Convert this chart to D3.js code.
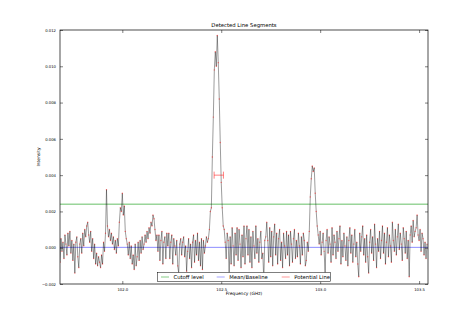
<!DOCTYPE html>
<html>
<head>
<meta charset="utf-8">
<script src="https://cdn.jsdelivr.net/npm/d3@7"></script>
<style>
  body { margin: 0; background: #fff; }
  text { font-family: "DejaVu Sans", sans-serif; fill: #000; }
</style>
</head>
<body>
<div id="chart"></div>
<script>
// spectral axis (channel start and width, GHz)
const freqStart = 101.685;
const freqStep = 0.005;
// intensity per channel, in units of 1e-4
const intensityE4 = [
  -8, 5, -2, 3, -6, 7, 2, -4, 8, 1,
  9, -3, 4, -7, 2, -14, 3, 6, -5, -11,
  2, 5, -3, 8, 1, 10, 6, 12, 14, 7,
  3, 9, -2, 5, -6, 2, -9, -3, -10, -5,
  -8, -11, -4, -9, 3, -2, 8, 32, 12, 6,
  10, 4, 8, 2, 6, -1, 4, -3, 5, 1,
  14, 22, 20, 30, 18, 23, 9, 5, 2, -4,
  3, -6, 1, -9, -4, -12, 2, -10, -5, 3,
  -7, 4, -3, 6, -1, 2, 7, 3, 9, 5,
  11, 8, 14, 12, 18, 16, 10, 4, 7, -2,
  7, -7, 4, 9, -9, 3, 6, -6, 8, 1,
  8, -6, 3, 7, -9, 5, 1, -4, 4, -10,
  -14, 2, 5, -4, 3, 6, -5, 1, -13, -2,
  5, -6, 2, -11, 3, 7, -8, 4, -4, 8,
  -7, 3, -10, 5, -12, 4, -3, 1, 6, 3,
  5, 10, 20, 22, 50, 72, 98, 108, 100, 117,
  102, 82, 58, 36, 22, 12, 10, 3, -6, 8,
  4, -16, 6, -9, 11, 1, -10, 8, -4, 11,
  -7, 10, 2, -11, 7, -5, 12, -9, 5, 12,
  -4, 10, -8, 6, -11, 9, 1, -6, 12, -3,
  5, -8, 3, 9, -6, -3, -18, 4, 6, 14,
  4, -8, 11, -5, 9, -10, 6, 13, -4, 8,
  -9, 5, 10, -7, 3, -11, 8, 1, -6, 9,
  -4, 7, -10, 9, 2, -8, 5, 10, -6, 4,
  -5, 8, 1, -9, 6, -4, 8, 4, -10, -7,
  3, -2, 9, 28, 38, 45, 42, 44, 30, 20,
  12, 7, 2, 9, -4, 3, 8, -2, -14, 4,
  10, -3, 6, 2, -8, 11, -4, 7, 3, -6,
  9, -2, 5, 12, -9, 4, -5, 8, 1, -7,
  6, -10, 4, 11, -3, 7, -8, 2, 10, -5,
  3, -9, -16, 8, -2, 6, 12, -4, 5, -8,
  7, -5, -14, 3, 10, -3, 6, -7, 13, 2,
  -11, 5, -2, 9, -6, 4, 12, -3, 8, -9,
  3, 11, -5, 7, 1, -8, 14, 4, -2, 10,
  -4, 6, 13, -1, 8, 2, -7, 11, 5, -3,
  9, -6, 4, -16, 7, 12, 3, 15, 6, 9,
  11, 18, 7, 4, 10, -2, 8, 5, -4, 3,
  -6, 2
];
const cutoffLevel = 0.0024;
const baseline = 0.00002;
// detected line segment: [start, end] frequency and its level
const lineSegments = [{ start: 102.464, end: 102.511, level: 0.004 }];
const xTicks = [102.0, 102.5, 103.0, 103.5];
const yTicks = [-0.002, 0.000, 0.002, 0.004, 0.006, 0.008, 0.010, 0.012];
const legendLabels = ["Cutoff level", "Mean/Baseline", "Potential Line"];
const legendColors = ["rgba(0,150,0,0.6)", "rgba(0,0,255,0.45)", "rgba(255,0,0,0.5)"];

const spectrum = intensityE4.map((v, i) => ({ f: freqStart + i * freqStep, y: v * 1e-4 }));

const W = 475, H = 316;
const margin = { top: 30, right: 47, bottom: 32, left: 60 },
   width = W - margin.left - margin.right,
   height = H - margin.top - margin.bottom;

const x = d3.scaleLinear().domain([101.685, 103.545]).range([0, width]);
const y = d3.scaleLinear().domain([-0.002, 0.012]).range([height, 0]);

const svg = d3.select("#chart").append("svg")
   .attr("width", W)
   .attr("height", H);
const g = svg.append("g")
   .attr("transform", "translate(" + margin.left + "," + margin.top + ")");

g.append("defs").append("clipPath").attr("id", "clip")
   .append("rect").attr("width", width).attr("height", height);
const plot = g.append("g").attr("clip-path", "url(#clip)");

// reference levels
plot.append("line")
   .attr("x1", 0).attr("x2", width)
   .attr("y1", y(cutoffLevel)).attr("y2", y(cutoffLevel))
   .attr("stroke", legendColors[0]).attr("stroke-width", 1);
plot.append("line")
   .attr("x1", 0).attr("x2", width)
   .attr("y1", y(baseline)).attr("y2", y(baseline))
   .attr("stroke", legendColors[1]).attr("stroke-width", 1);

// spectrum
const line = d3.line().x(d => x(d.f)).y(d => y(d.y));
plot.append("path")
   .datum(spectrum)
   .attr("d", line)
   .attr("fill", "none")
   .attr("stroke", "#000")
   .attr("stroke-opacity", 0.6)
   .attr("stroke-width", 0.65);
plot.selectAll("circle.pt")
   .data(spectrum)
   .enter().append("circle")
   .attr("class", "pt")
   .attr("cx", d => x(d.f))
   .attr("cy", d => y(d.y))
   .attr("r", 0.7)
   .attr("fill", "rgba(255,0,0,0.5)");

// detected line segments with caps
lineSegments.forEach(s => {
   plot.append("line")
      .attr("x1", x(s.start)).attr("x2", x(s.end))
      .attr("y1", y(s.level)).attr("y2", y(s.level))
      .attr("stroke", legendColors[2]).attr("stroke-width", 1);
   [s.start, s.end].forEach(f => {
      plot.append("line")
         .attr("x1", x(f)).attr("x2", x(f))
         .attr("y1", y(s.level) - 3.5).attr("y2", y(s.level) + 3.5)
         .attr("stroke", legendColors[2]).attr("stroke-width", 1);
   });
});

// axes (ticks inward on all sides)
const fmtY = d3.format(".3f");
const axBottom = g.append("g").attr("transform", "translate(0," + height + ")")
   .call(d3.axisBottom(x).tickValues(xTicks).tickSize(-3).tickPadding(4).tickFormat(d3.format(".1f")));
const axTop = g.append("g")
   .call(d3.axisTop(x).tickValues(xTicks).tickSize(-3).tickFormat(""));
const axLeft = g.append("g")
   .call(d3.axisLeft(y).tickValues(yTicks).tickSize(-3).tickPadding(4).tickFormat(d => d === -0.002 ? "\u22120.002" : fmtY(d)));
const axRight = g.append("g").attr("transform", "translate(" + width + ",0)")
   .call(d3.axisRight(y).tickValues(yTicks).tickSize(-3).tickFormat(""));
[axBottom, axTop, axLeft, axRight].forEach(a => {
   a.select(".domain").remove();
   a.selectAll(".tick line").attr("stroke", "#000").attr("stroke-width", 0.5);
   a.selectAll("text").style("font-size", "3.8px").attr("fill", "#000");
});

g.append("rect")
   .attr("width", width).attr("height", height)
   .attr("fill", "none").attr("stroke", "#000").attr("stroke-width", 0.7);

// legend
const lg = g.append("g").attr("transform", "translate(" + (157.3 - margin.left) + "," + (272.3 - margin.top) + ")");
lg.append("rect").attr("width", 173.4).attr("height", 9.4)
   .attr("fill", "#fff").attr("stroke", "#000").attr("stroke-width", 0.5);
const legendX = [3.7, 59.4, 124.4];
legendLabels.forEach((lab, i) => {
   lg.append("line")
      .attr("x1", legendX[i]).attr("x2", legendX[i] + 8)
      .attr("y1", 4.7).attr("y2", 4.7)
      .attr("stroke", legendColors[i]).attr("stroke-width", 0.8);
   lg.append("text")
      .attr("x", legendX[i] + 12.5).attr("y", 4.7)
      .attr("dy", "0.35em")
      .style("font-size", "5.3px")
      .text(lab);
});

// titles
g.append("text")
   .attr("x", width / 2).attr("y", -3.5)
   .attr("text-anchor", "middle")
   .style("font-size", "5.3px")
   .text("Detected Line Segments");
g.append("text")
   .attr("x", width / 2).attr("y", height + 10.5)
   .attr("text-anchor", "middle")
   .style("font-size", "4.4px")
   .text("Frequency (GHz)");
g.append("text")
   .attr("transform", "translate(-20," + height / 2 + ") rotate(-90)")
   .attr("text-anchor", "middle")
   .style("font-size", "4.4px")
   .text("Intensity");
</script>
</body>
</html>
